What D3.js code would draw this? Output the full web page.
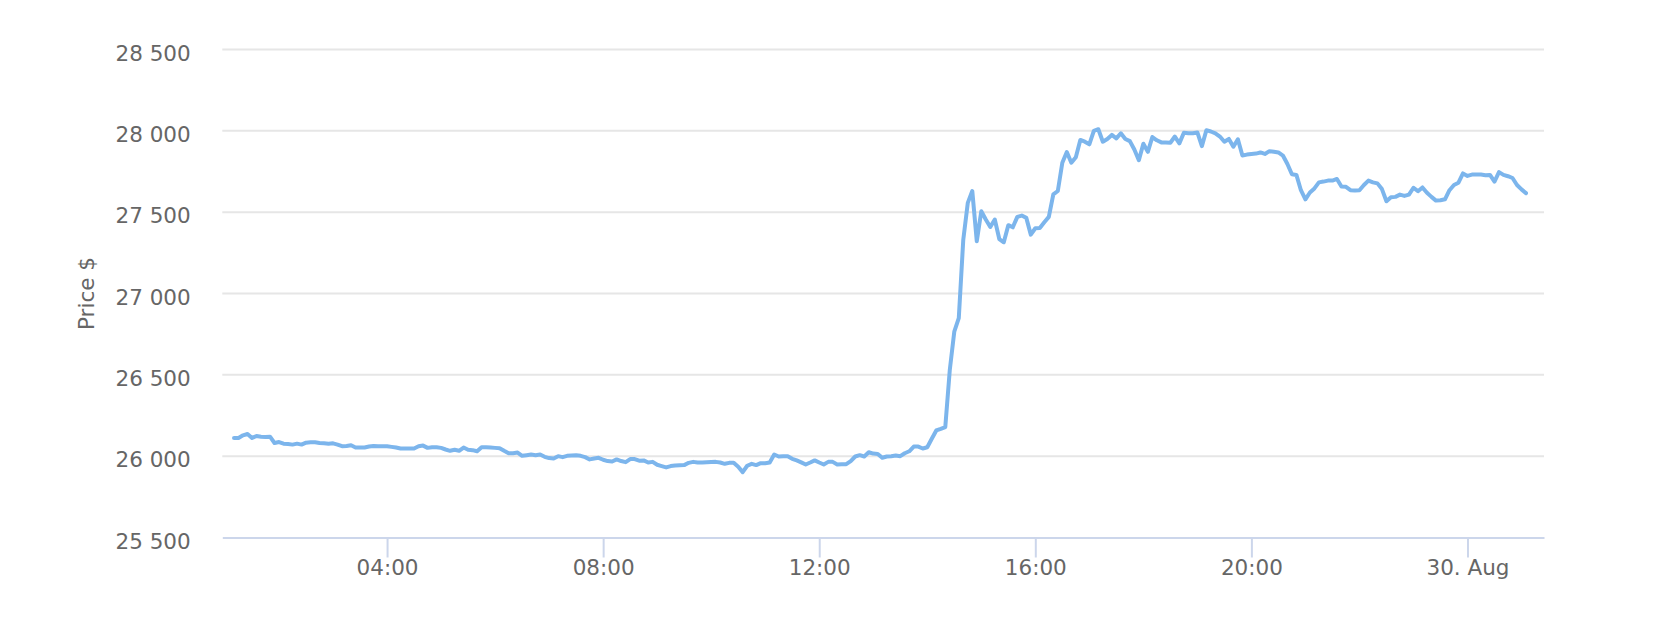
<!DOCTYPE html>
<html>
<head>
<meta charset="utf-8">
<script src="https://cdn.jsdelivr.net/npm/d3@7"></script>
<style>
  html, body { margin: 0; padding: 0; background: #fff; }
  svg { display: block; font-family: "DejaVu Sans", Verdana, sans-serif; }
</style>
</head>
<body>
<svg id="chart" width="1669" height="627"></svg>
<script>
/* Data: BTC price, one point every 5 minutes starting 29 Aug 01:10 (UTC) */
const startTime = Date.UTC(2023, 7, 29, 1, 10)
const stepMinutes = 5

const prices = [
  26112, 26112, 26128, 26136, 26112, 26124, 26120, 26118, 26120, 26081,
  26087, 26077, 26075, 26071, 26077, 26071, 26083, 26085, 26085, 26081,
  26079, 26077, 26079, 26071, 26061, 26063, 26067, 26053, 26053, 26053,
  26059, 26063, 26061, 26061, 26061, 26057, 26053, 26047, 26047, 26047,
  26047, 26061, 26065, 26051, 26055, 26055, 26051, 26041, 26033, 26039,
  26033, 26053, 26039, 26037, 26030, 26055, 26055, 26053, 26051, 26049,
  26033, 26018, 26018, 26022, 26002, 26006, 26010, 26006, 26010, 25996,
  25988, 25986, 26000, 25994,
  26002, 26004, 26006, 26002, 25994, 25980, 25986, 25990, 25978, 25970,
  25967, 25980, 25970, 25963, 25982, 25982, 25972, 25974, 25961, 25965,
  25947, 25939, 25931, 25939, 25943, 25944, 25945, 25959, 25965, 25961,
  25961, 25963, 25964, 25965, 25961, 25953, 25959, 25959, 25935, 25902,
  25941, 25953, 25945, 25957, 25957, 25961, 26010, 25998, 26000, 26000,
  25984, 25974, 25962, 25949, 25961, 25974, 25961, 25949, 25965, 25965,
  25949, 25951, 25951, 25970, 25998, 26006, 25998, 26024, 26016, 26014,
  25990, 25998, 26000, 26004,
  26000, 26018, 26030, 26059, 26059, 26047, 26055, 26107, 26158, 26168,
  26179, 26529, 26765, 26848, 27331, 27557, 27630, 27321, 27506, 27455,
  27409, 27455, 27335, 27315, 27420, 27407, 27471, 27479, 27465, 27362,
  27401, 27403, 27438, 27471, 27609, 27630, 27804, 27870, 27804,
  27838, 27944, 27933, 27917, 28000, 28010, 27933, 27950, 27975, 27954,
  27985, 27950, 27937, 27885, 27819, 27921, 27871, 27962, 27942, 27929,
  27929, 27927, 27965, 27923, 27988, 27985, 27985, 27990, 27906, 28004,
  27996, 27985, 27965, 27933, 27950, 27902, 27948, 27848, 27854, 27858,
  27860, 27867, 27858, 27875, 27871, 27867, 27848, 27796, 27733, 27729,
  27635, 27579,
  27621, 27646, 27683, 27688, 27694, 27694, 27704, 27658, 27656, 27635,
  27633, 27635, 27667, 27694, 27683, 27677, 27642, 27567, 27592, 27594,
  27608, 27600, 27608, 27650, 27629, 27652, 27619, 27594, 27571, 27573,
  27579, 27635, 27667, 27681, 27738, 27723, 27731, 27731, 27731, 27727,
  27729, 27688, 27746, 27729, 27721, 27710, 27667, 27640, 27617
]

const yTicks = [25500, 26000, 26500, 27000, 27500, 28000, 28500]
const xDomain = [Date.UTC(2023, 7, 29, 0, 57), Date.UTC(2023, 7, 30, 1, 25)]
const yTitle = "Price $"

const width = 1669
const height = 627
const margin = { top: 49.5, right: 125, bottom: 89.5, left: 222.3 }

const data = prices.map((p, i) => ({
  date: new Date(startTime + i * stepMinutes * 60000),
  price: p
}))

const svg = d3.select("#chart")

const x = d3
  .scaleUtc()
  .domain(xDomain)
  .range([margin.left, width - margin.right])

const y = d3
  .scaleLinear()
  .domain([yTicks[0], yTicks[yTicks.length - 1]])
  .range([height - margin.bottom, margin.top])

const fmtNum = d3.formatLocale({ decimal: ".", thousands: " ", grouping: [3], currency: ["", "$"] }).format(",")
const months = ["Jan", "Feb", "Mar", "Apr", "May", "Jun", "Jul", "Aug", "Sep", "Oct", "Nov", "Dec"]
const fmtTime = d =>
  d.getUTCHours() === 0 && d.getUTCMinutes() === 0
    ? `${d.getUTCDate()}. ${months[d.getUTCMonth()]}`
    : d3.utcFormat("%H:%M")(d)

// grid lines
svg
  .append("g")
  .selectAll("line")
  .data(yTicks.slice(1))
  .join("line")
  .attr("x1", margin.left)
  .attr("x2", width - margin.right)
  .attr("y1", d => y(d))
  .attr("y2", d => y(d))
  .attr("stroke", "#e6e6e6")
  .attr("stroke-width", 2)

// y labels
svg
  .append("g")
  .attr("fill", "#666666")
  .attr("font-size", "21.5px")
  .attr("text-anchor", "end")
  .selectAll("text")
  .data(yTicks)
  .join("text")
  .attr("x", 190.7)
  .attr("y", d => y(d) + 11)
  .text(d => fmtNum(d))

// y title
svg
  .append("text")
  .attr("transform", `translate(94,${(margin.top + height - margin.bottom) / 2}) rotate(-90)`)
  .attr("text-anchor", "middle")
  .attr("fill", "#666666")
  .attr("font-size", "21.5px")
  .text(yTitle)

// x axis
const xAxis = g =>
  g
    .attr("transform", `translate(0,${height - margin.bottom})`)
    .call(d3.axisBottom(x).ticks(d3.utcHour.every(4)).tickFormat(fmtTime).tickSize(20).tickPadding(2).tickSizeOuter(0))
    .call(g => g.select(".domain").attr("stroke", "#ccd6eb").attr("stroke-width", 2))
    .call(g => g.selectAll(".tick line").attr("stroke", "#ccd6eb").attr("stroke-width", 2))
    .call(g =>
      g
        .selectAll(".tick text")
        .attr("fill", "#666666")
        .attr("font-size", "21.5px")
        .attr("font-family", "DejaVu Sans, Verdana, sans-serif")
    )

svg.append("g").call(xAxis)

// price line
const line = d3
  .line()
  .x(d => x(d.date))
  .y(d => y(d.price))

svg
  .append("path")
  .datum(data)
  .attr("fill", "none")
  .attr("stroke", "#7cb5ec")
  .attr("stroke-width", 4)
  .attr("stroke-linejoin", "round")
  .attr("stroke-linecap", "round")
  .attr("d", line)
</script>
</body>
</html>
